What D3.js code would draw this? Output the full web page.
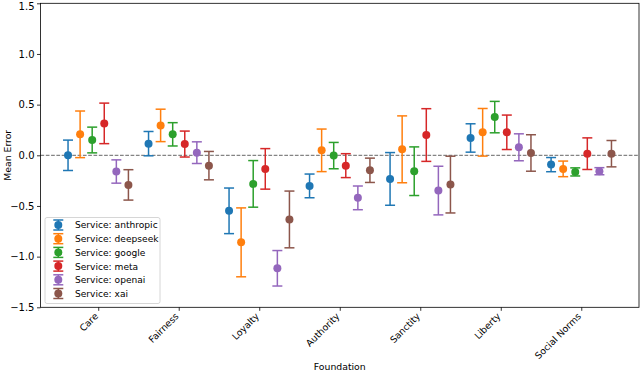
<!DOCTYPE html>
<html><head><meta charset="utf-8">
<script src="https://cdn.jsdelivr.net/npm/d3@7"></script>
<style>body{margin:0;background:#fff;} svg{display:block;} text{font-family:"DejaVu Sans",sans-serif;}</style>
</head><body><svg id="c" width="640" height="374"></svg>
<script>
const foundations = ["Care","Fairness","Loyalty","Authority","Sanctity","Liberty","Social Norms"];
const services = ["anthropic","deepseek","google","meta","openai","xai"];
const colors = ["#1f77b4","#ff7f0e","#2ca02c","#d62728","#9467bd","#8c564b"];
const yTicks = [-1.5,-1.0,-0.5,0.0,0.5,1.0,1.5];
// mean per service (rows) per foundation (cols)
const meanAnthropic = [0.00, 0.115, -0.548, -0.302, -0.233, 0.171, -0.092];
const meanDeepseek  = [0.207, 0.295, -0.859, 0.049, 0.059, 0.227, -0.134];
const meanGoogle    = [0.151, 0.207, -0.282, -0.003, -0.157, 0.377, -0.164];
const meanMeta      = [0.315, 0.111, -0.134, -0.102, 0.200, 0.227, 0.016];
const meanOpenai    = [-0.160, 0.026, -1.115, -0.420, -0.348, 0.079, -0.157];
const meanXai       = [-0.292, -0.102, -0.633, -0.148, -0.289, 0.023, 0.016];
const errAnthropic = [0.150, 0.120, 0.225, 0.117, 0.260, 0.140, 0.070];
const errDeepseek  = [0.230, 0.160, 0.340, 0.210, 0.330, 0.235, 0.077];
const errGoogle    = [0.127, 0.115, 0.230, 0.130, 0.240, 0.155, 0.040];
const errMeta      = [0.200, 0.128, 0.200, 0.118, 0.260, 0.170, 0.156];
const errOpenai    = [0.115, 0.107, 0.175, 0.117, 0.240, 0.133, 0.035];
const errXai       = [0.150, 0.140, 0.280, 0.120, 0.280, 0.180, 0.130];
const means = [meanAnthropic, meanDeepseek, meanGoogle, meanMeta, meanOpenai, meanXai];
const errs = [errAnthropic, errDeepseek, errGoogle, errMeta, errOpenai, errXai];

const svg = d3.select("#c");
const L = 40.5, R = 639, T = 3.3, B = 307.3;
const x = d3.scaleLinear().domain([-0.717, 6.717]).range([L, R]);
const y = d3.scaleLinear().domain([-1.5, 1.5]).range([B, T]);
const dodge = 0.15;

// zero line
svg.append("line").attr("x1", L).attr("x2", R).attr("y1", y(0)).attr("y2", y(0))
  .attr("stroke", "#666").attr("stroke-width", 1).attr("stroke-dasharray", "3.7,1.6");

// series
services.forEach((s, si) => {
  const g = svg.append("g");
  const off = (si - 2.5) * dodge;
  foundations.forEach((f, fi) => {
    const cx = x(fi + off), m = means[si][fi], e = errs[si][fi];
    g.append("line").attr("x1", cx).attr("x2", cx).attr("y1", y(m - e)).attr("y2", y(m + e))
      .attr("stroke", colors[si]).attr("stroke-width", 1.5);
    [m - e, m + e].forEach(v => g.append("line").attr("x1", cx - 5).attr("x2", cx + 5)
      .attr("y1", y(v)).attr("y2", y(v)).attr("stroke", colors[si]).attr("stroke-width", 1.5));
    g.append("circle").attr("cx", cx).attr("cy", y(m)).attr("r", 4).attr("fill", colors[si]);
  });
});

// axes
const ya = svg.append("g").attr("transform", `translate(${L},0)`)
  .call(d3.axisLeft(y).tickValues(yTicks).tickFormat(d => d3.format(".1f")(d).replace("-", "\u2212")).tickSizeOuter(0).tickSize(3.5));
ya.select(".domain").remove();
ya.selectAll("text").attr("font-size", 10).attr("fill", "#000").attr("x", -6)
  .attr("dy", d => d === 1.5 ? "0.6em" : "0.32em");
ya.selectAll("line").attr("stroke", "#000").attr("stroke-width", 0.8);

const xa = svg.append("g").attr("transform", `translate(0,${B})`)
  .call(d3.axisBottom(x).tickValues(d3.range(foundations.length)).tickFormat(i => foundations[i]).tickSizeOuter(0).tickSize(3.5));
xa.select(".domain").remove();
xa.selectAll("line").attr("stroke", "#000").attr("stroke-width", 0.8);
xa.selectAll("text").attr("font-size", 9.3).attr("fill", "#000")
  .attr("text-anchor", "end").attr("dy", 0).attr("y", 0)
  .attr("transform", "translate(0,9.5) rotate(-45)");

// frame
svg.append("rect").attr("x", L).attr("y", T).attr("width", R - L).attr("height", B - T)
  .attr("fill", "none").attr("stroke", "#000").attr("stroke-width", 0.8);

// labels
svg.append("text").attr("x", (L + R) / 2).attr("y", 370).attr("text-anchor", "middle")
  .attr("font-size", 9.3).text("Foundation");
svg.append("text").attr("transform", `translate(11,${(T + B) / 2}) rotate(-90)`).attr("text-anchor", "middle")
  .attr("font-size", 9.3).text("Mean Error");

// legend
const lg = svg.append("g");
lg.append("rect").attr("x", 45).attr("y", 217.5).attr("width", 115).attr("height", 86).attr("rx", 2)
  .attr("fill", "#fff").attr("fill-opacity", 0.8).attr("stroke", "#ccc").attr("stroke-width", 0.8);
services.forEach((s, si) => {
  const yy = 225 + si * 13.7, cx = 58.3;
  lg.append("line").attr("x1", cx).attr("x2", cx).attr("y1", yy - 5).attr("y2", yy + 5).attr("stroke", colors[si]).attr("stroke-width", 1.5);
  [yy - 5, yy + 5].forEach(v => lg.append("line").attr("x1", cx - 5).attr("x2", cx + 5).attr("y1", v).attr("y2", v).attr("stroke", colors[si]).attr("stroke-width", 1.5));
  lg.append("circle").attr("cx", cx).attr("cy", yy).attr("r", 4).attr("fill", colors[si]);
  lg.append("text").attr("x", 75).attr("y", yy + 3.4).attr("font-size", 9.1).text("Service: " + s);
});
</script></body></html>
